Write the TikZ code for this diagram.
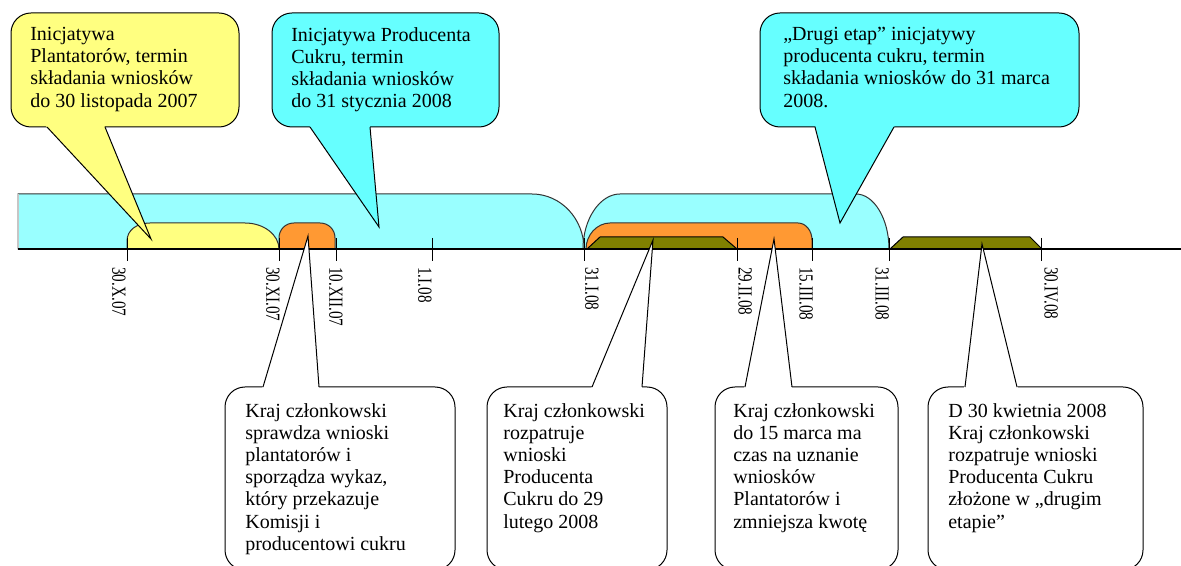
\documentclass[tikz,border=0pt]{standalone}
\usepackage{fontspec}
\setmainfont{Liberation Serif}
\newfontfamily\tickdatefont[FakeStretch=0.76]{Liberation Serif}
\definecolor{calloutYellow}{HTML}{FFFF80}
\definecolor{calloutCyan}{HTML}{66FFFF}
\definecolor{bandCyan}{HTML}{99FFFF}
\definecolor{bandOrange}{HTML}{FF9933}
\definecolor{bandOlive}{HTML}{808000}
\definecolor{edgeGray}{HTML}{333333}

\begin{document}
\begin{tikzpicture}[x = 0.6pt, y = -0.6pt, font = \fontsize{12}{13.3}\selectfont]
	\tikzstyle{bandStyle} = [draw = edgeGray, line width = 0.6pt]
	\tikzstyle{boxStyle} = [draw = black, line width = 0.6pt, rounded corners = 12pt]
	\tikzstyle{pointerStyle} = [draw = black, line width = 0.6pt]
	\tikzstyle{textStyle} = [anchor = north west, inner sep = 0pt, align = left]
	\tikzstyle{dateStyle} = [anchor = west, inner sep = 0pt, rotate = -90, font = \tickdatefont\fontsize{12}{14}\selectfont]
	\tikzstyle{tickStyle} = [line width = 0.6pt]
	\useasboundingbox (0,0) rectangle (1181,566);
	\fill[white] (0,0) rectangle (1181,566);
	\filldraw[bandStyle, fill = bandCyan] (18,249) -- (18,194) -- (532,194) .. controls (561,194) and (584,219) .. (584,249) -- cycle;
	\draw[gray!45, line width = 0.8pt] (18,194) -- (18,249);
	\filldraw[bandStyle, fill = calloutYellow] (127,249) -- (127,241) .. controls (127,230) and (137,223) .. (150,223) -- (245,223) .. controls (264,223) and (279,235) .. (279,249) -- cycle;
	\filldraw[bandStyle, fill = bandOrange] (279,249) -- (279,238) .. controls (279,229.5) and (285.5,223) .. (294,223) -- (320,223) .. controls (328.5,223) and (335,229.5) .. (335,238) -- (335,249) -- cycle;
	\filldraw[bandStyle, fill = bandCyan] (583,249) .. controls (583,219) and (600,194) .. (620,194) -- (856,194) .. controls (874,194) and (889,219) .. (889,249) -- cycle;
	\filldraw[bandStyle, fill = bandOrange] (586,249) .. controls (586,235) and (597,223) .. (610,223) -- (798,223) .. controls (806,223) and (812,231) .. (812,240) -- (812,249) -- cycle;
	\filldraw[bandStyle, draw = black, fill = bandOlive] (587,249) -- (600,237) -- (723,237) -- (737,249) -- cycle;
	\filldraw[bandStyle, draw = black, fill = bandOlive] (890,249) -- (903,237) -- (1030,237) -- (1042,249) -- cycle;
	\draw[line width = 1.3pt] (18,249) -- (1181,249);
	\draw[tickStyle] (127,238) -- (127,261);
	\draw[tickStyle] (279,238) -- (279,261);
	\draw[tickStyle] (336,238) -- (336,261);
	\draw[tickStyle] (432,238) -- (432,261);
	\draw[tickStyle] (584,238) -- (584,261);
	\draw[tickStyle] (737,238) -- (737,261);
	\draw[tickStyle] (812,238) -- (812,261);
	\draw[tickStyle] (889,238) -- (889,261);
	\draw[tickStyle] (1041,238) -- (1041,261);
	\node[dateStyle] (d0) at (119,267) {30.X.07};
	\node[dateStyle] (d1) at (273,267) {30.XI.07};
	\node[dateStyle] (d2) at (336,267) {10.XII.07};
	\node[dateStyle] (d3) at (425,267) {1.I.08};
	\node[dateStyle] (d4) at (592,267) {31.I.08};
	\node[dateStyle] (d5) at (745,267) {29.II.08};
	\node[dateStyle] (d6) at (806,267) {15.III.08};
	\node[dateStyle] (d7) at (882,267) {31.III.08};
	\node[dateStyle] (d8) at (1051,267) {30.IV.08};
	\coordinate (t0) at (151,239);
	\coordinate (t1) at (379,227);
	\coordinate (t2) at (840,223);
	\coordinate (t3) at (308,236);
	\coordinate (t4) at (653,240);
	\coordinate (t5) at (774,239);
	\coordinate (t6) at (982,244);
	\filldraw[boxStyle, fill = calloutYellow] (11,13) rectangle (239,127);
	\fill[calloutYellow] (45,125) -- (t0) -- (104,125) -- cycle;
	\draw[pointerStyle] (47,127) -- (t0) -- (105,127);
	\node[textStyle] (c0) at (30,27) {Inicjatywa\\Plantatorów, termin\\składania wniosków\\do 30 listopada 2007};
	\filldraw[boxStyle, fill = calloutCyan] (272,13) rectangle (499,127);
	\fill[calloutCyan] (309,125) -- (t1) -- (370,125) -- cycle;
	\draw[pointerStyle] (310,127) -- (t1) -- (370,127);
	\node[textStyle] (c1) at (291,27) {Inicjatywa Producenta\\Cukru, termin\\składania wniosków\\do 31 stycznia 2008};
	\filldraw[boxStyle, fill = calloutCyan] (760,13) rectangle (1079,127);
	\fill[calloutCyan] (815,125) -- (t2) -- (895,125) -- cycle;
	\draw[pointerStyle] (815,127) -- (t2) -- (894,127);
	\node[textStyle] (c2) at (783,27) {„Drugi etap” inicjatywy\\producenta cukru, termin\\składania wniosków do 31 marca\\2008.};
	\filldraw[boxStyle, fill = white] (225,387) rectangle (455,570);
	\fill[white] (262,389) -- (t3) -- (319,389) -- cycle;
	\draw[pointerStyle] (263,387) -- (t3) -- (319,387);
	\node[textStyle] (c3) at (245,403) {Kraj członkowski\\sprawdza wnioski\\plantatorów i\\sporządza wykaz,\\który przekazuje\\Komisji i\\producentowi cukru};
	\filldraw[boxStyle, fill = white] (487,387) rectangle (667,570);
	\fill[white] (591,389) -- (t4) -- (642,389) -- cycle;
	\draw[pointerStyle] (592,387) -- (t4) -- (642,387);
	\node[textStyle] (c4) at (503,403) {Kraj członkowski\\rozpatruje\\wnioski\\Producenta\\Cukru do 29\\lutego 2008};
	\filldraw[boxStyle, fill = white] (715,387) rectangle (898,570);
	\fill[white] (744,389) -- (t5) -- (792,389) -- cycle;
	\draw[pointerStyle] (745,387) -- (t5) -- (792,387);
	\node[textStyle] (c5) at (733,403) {Kraj członkowski\\do 15 marca ma\\czas na uznanie\\wniosków\\Plantatorów i\\zmniejsza kwotę};
	\filldraw[boxStyle, fill = white] (928,387) rectangle (1143,570);
	\fill[white] (964,389) -- (t6) -- (1018,389) -- cycle;
	\draw[pointerStyle] (965,387) -- (t6) -- (1017,387);
	\node[textStyle] (c6) at (948,403) {D 30 kwietnia 2008\\Kraj członkowski\\rozpatruje wnioski\\Producenta Cukru\\złożone w „drugim\\etapie”};
\end{tikzpicture}
\end{document}
